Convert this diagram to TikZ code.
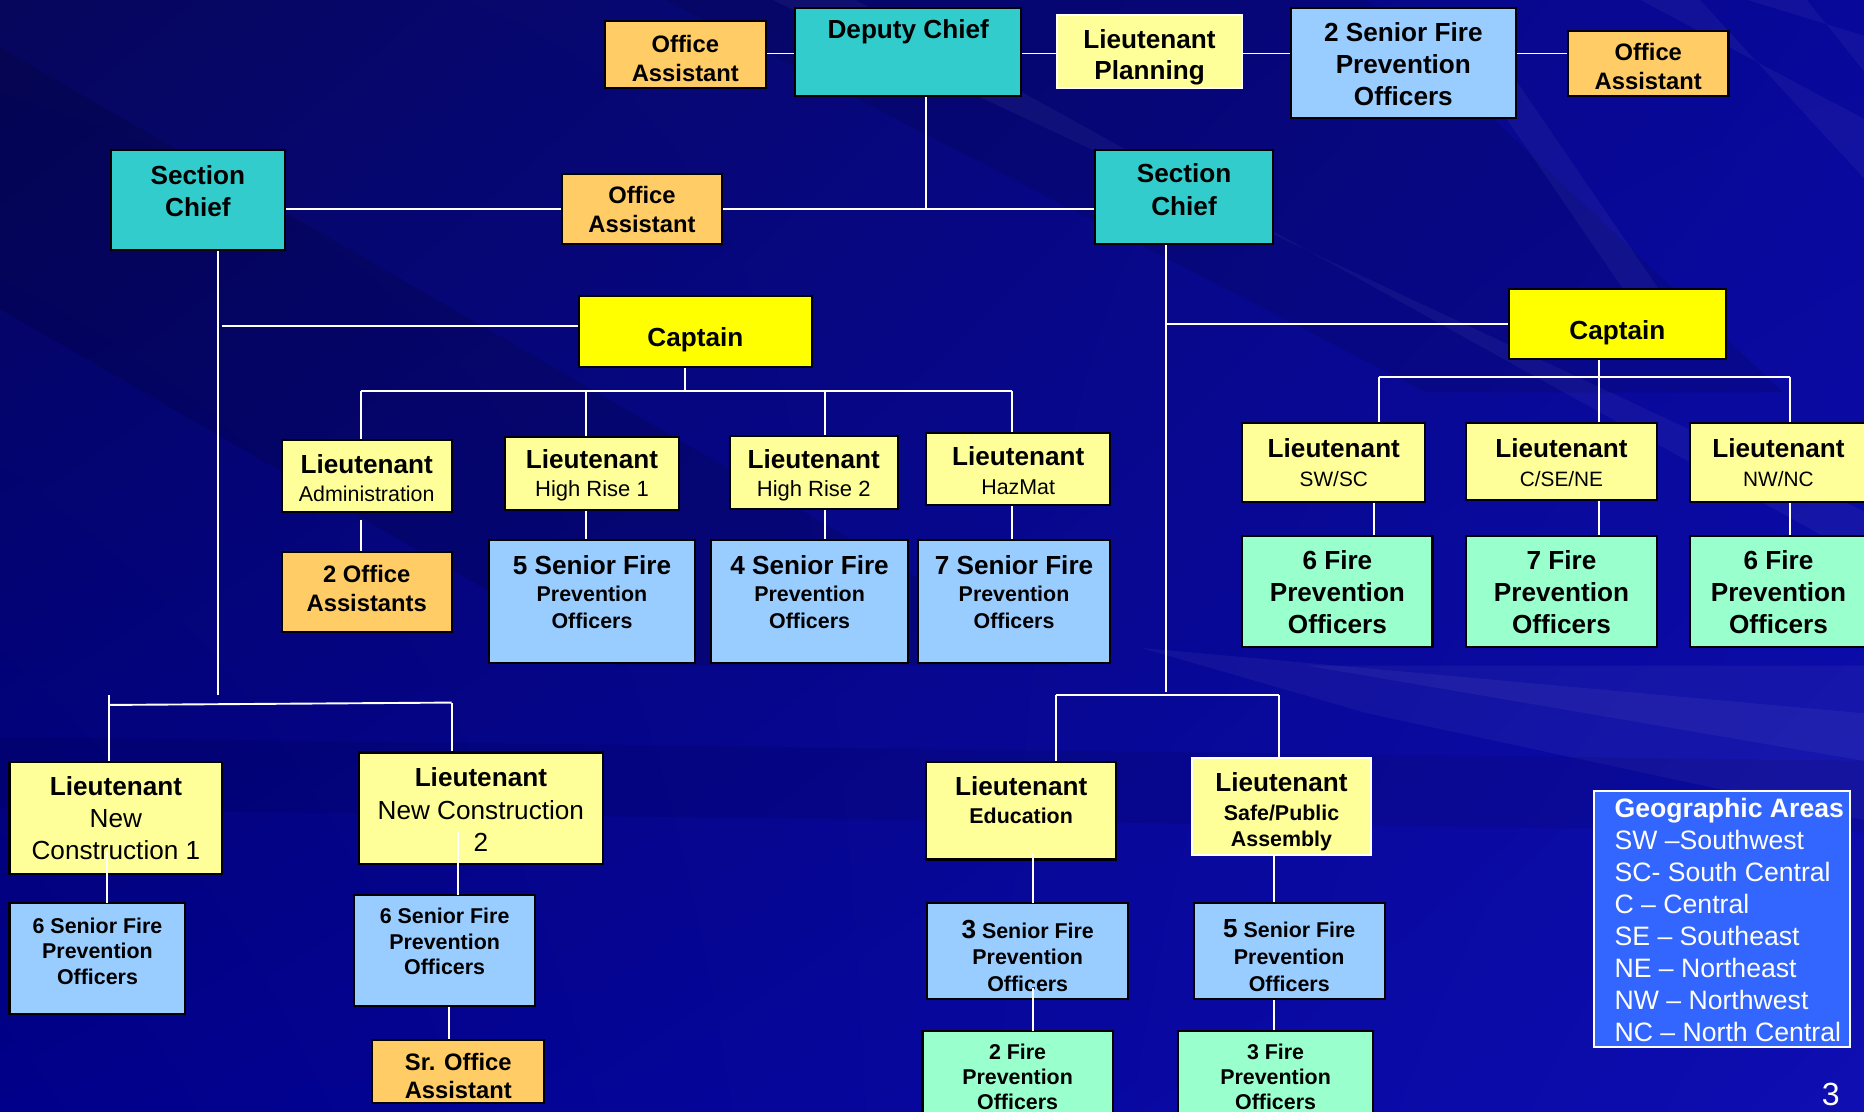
\documentclass[tikz,border=0pt]{standalone}
\usepackage{fontspec}
\setmainfont{Liberation Sans}
\usetikzlibrary{shadings}
\pgfdeclarelayer{back}
\pgfdeclarelayer{bg}
\pgfsetlayers{back,bg,main}
\definecolor{oaC}{HTML}{FFCC66}
\definecolor{chiefC}{HTML}{33CCCC}
\definecolor{ltC}{HTML}{FFFF99}
\definecolor{capC}{HTML}{FFFF00}
\definecolor{sfpoC}{HTML}{99CCFF}
\definecolor{fpoC}{HTML}{99FFCC}
\definecolor{legC}{HTML}{3366FF}
\definecolor{bgUL}{HTML}{06065C}
\definecolor{bgUR}{HTML}{08089A}
\definecolor{bgLL}{HTML}{00008A}
\definecolor{bgLR}{HTML}{0E0EB2}
\newcommand\FontB[2]{\fontsize{#1}{#2}\selectfont\bfseries}
\newcommand\FontR[2]{\fontsize{#1}{#2}\selectfont\mdseries}
% name, style, x1, y1, x2, y2, text centre y, text, text font
\newcommand\orgbox[9]{%
  \pgfmathsetmacro\obw{#5-#3}\pgfmathsetmacro\obh{#6-#4}%
  \node[#2, minimum width=\obw pt, minimum height=\obh pt, anchor=north west] (#1) at (#3,#4) {};%
  \node[txt, font={#9}] (#1t) at ({(#3+#5)/2},#7) {#8};%
}
\tikzset{
  bx/.style={draw=black, line width=1.7pt, inner sep=0pt, outer sep=0pt},
  oabox/.style={bx, fill=oaC},
  chiefbox/.style={bx, fill=chiefC},
  ltbox/.style={bx, fill=ltC},
  ltwbox/.style={ltbox, draw=white},
  capbox/.style={bx, fill=capC},
  sfpobox/.style={bx, fill=sfpoC},
  fpobox/.style={bx, fill=fpoC},
  txt/.style={align=center, inner sep=0pt, text=black},
  conn/.style={draw=white, line width=1.6pt},
  streak/.style={fill=white, opacity=0.045},
}
\begin{document}
\begin{tikzpicture}[x=1pt,y=-1pt]
\useasboundingbox (0,0) rectangle (1568,935);
\clip (0,0) rectangle (1568,935);

% ---------- boxes ----------
\orgbox{oa1}{oabox}{509}{18}{644}{74}{49}{Office\\Assistant}{\FontB{20}{24.5}}
\orgbox{dc}{chiefbox}{669}{7}{859}{81}{27}{Deputy Chief}{\FontB{22}{27}}
\orgbox{lp}{ltwbox}{889}{13}{1045}{74}{48}{Lieutenant\\Planning}{\FontB{22}{26}}
\orgbox{sf2}{sfpobox}{1086}{7}{1275}{99}{54}{2 Senior Fire\\Prevention\\Officers}{\FontB{22}{27}}
\orgbox{oa2}{oabox}{1319}{26}{1454}{81}{56}{Office\\Assistant}{\FontB{20}{24.5}}

\orgbox{scl}{chiefbox}{93}{126}{240}{210}{160.5}{Section\\Chief}{\FontB{22}{27}}
\orgbox{oam}{oabox}{473}{146}{607}{205}{176.5}{Office\\Assistant}{\FontB{20}{24.5}}
\orgbox{scr}{chiefbox}{921}{126}{1071}{205}{159.5}{Section\\Chief}{\FontB{22}{27}}

\orgbox{capl}{capbox}{487}{249}{683}{309}{286}{Captain}{\FontB{22}{27}}
\orgbox{capr}{capbox}{1269}{243}{1452}{302}{280}{Captain}{\FontB{22}{27}}

\orgbox{ladm}{ltbox}{237}{370}{380}{431}{402}{{\FontB{22}{24}Lieutenant}\\Administration}{\FontR{18}{24}}
\orgbox{lhr1}{ltbox}{425}{368}{571}{429}{400}{{\FontB{22}{24}Lieutenant}\\High Rise 1}{\FontR{18.5}{24}}
\orgbox{lhr2}{ltbox}{614}{367}{755}{428}{400}{{\FontB{22}{24}Lieutenant}\\High Rise 2}{\FontR{18.5}{24}}
\orgbox{lhaz}{ltbox}{779}{364}{934}{425}{396}{{\FontB{22}{24}Lieutenant}\\HazMat}{\FontR{18}{24}}

\orgbox{oa2x}{oabox}{237}{464}{380}{532}{495}{2 Office\\Assistants}{\FontB{20}{24}}
\orgbox{s5}{sfpobox}{411}{454}{585}{558}{498}{{\FontB{22}{23}5 Senior Fire}\\Prevention\\Officers}{\FontB{18}{23}}
\orgbox{s4}{sfpobox}{598}{454}{764}{558}{498}{{\FontB{22}{23}4 Senior Fire}\\Prevention\\Officers}{\FontB{18}{23}}
\orgbox{s7}{sfpobox}{772}{454}{934}{558}{498}{{\FontB{22}{23}7 Senior Fire}\\Prevention\\Officers}{\FontB{18}{23}}

\orgbox{lsw}{ltbox}{1045}{356}{1199}{422}{389}{{\FontB{22}{24}Lieutenant}\\SW/SC}{\FontR{17.5}{24}}
\orgbox{lcse}{ltbox}{1233}{356}{1394}{421}{389}{{\FontB{22}{24}Lieutenant}\\C/SE/NE}{\FontR{17.5}{24}}
\orgbox{lnw}{ltbox}{1422}{356}{1570}{422}{389}{{\FontB{22}{24}Lieutenant}\\NW/NC}{\FontR{17.5}{24}}
\orgbox{f6a}{fpobox}{1045}{451}{1205}{544}{498}{6 Fire\\Prevention\\Officers}{\FontB{22}{27}}
\orgbox{f7}{fpobox}{1233}{451}{1394}{544}{498}{7 Fire\\Prevention\\Officers}{\FontB{22}{27}}
\orgbox{f6b}{fpobox}{1422}{451}{1570}{544}{498}{6 Fire\\Prevention\\Officers}{\FontB{22}{27}}

\orgbox{lnc1}{ltbox}{8}{641}{187}{735}{688}{{\bfseries Lieutenant}\\New\\Construction 1}{\FontR{22}{27}}
\orgbox{lnc2}{ltbox}{302}{633}{507}{727}{681}{{\bfseries Lieutenant}\\New Construction\\2}{\FontR{22}{27}}
\orgbox{s6a}{sfpobox}{8}{760}{156}{853}{800}{6 Senior Fire\\Prevention\\Officers}{\FontB{18}{21.5}}
\orgbox{s6b}{sfpobox}{298}{753}{450}{846}{792}{6 Senior Fire\\Prevention\\Officers}{\FontB{18}{21.5}}
\orgbox{sroa}{oabox}{313}{875}{458}{928}{905}{Sr. Office\\Assistant}{\FontB{20}{24}}

\orgbox{ledu}{ltbox}{779}{641}{939}{723}{673}{{\FontB{22}{24}Lieutenant}\\Education}{\FontB{18}{24}}
\orgbox{lsafe}{ltwbox}{1003}{638}{1153}{719}{683}{{\FontB{22}{22}Lieutenant}\\[2pt]Safe/Public\\Assembly}{\FontB{18}{22}}
\orgbox{s3}{sfpobox}{780}{760}{949}{840}{804}{{\FontB{22}{22}3} Senior Fire\\Prevention\\Officers}{\FontB{18}{22.5}}
\orgbox{s5b}{sfpobox}{1004}{760}{1165}{840}{804}{{\FontB{22}{22}5} Senior Fire\\Prevention\\Officers}{\FontB{18}{22.5}}
\orgbox{f2}{fpobox}{776}{867}{936}{950}{905.5}{2 Fire\\Prevention\\Officers}{\FontB{18}{21}}
\orgbox{f3}{fpobox}{991}{867}{1155}{950}{905.5}{3 Fire\\Prevention\\Officers}{\FontB{18}{21}}

% legend and page number
\node[draw=white, line width=1.7pt, fill=legC, minimum width=215pt, minimum height=216pt,
      anchor=north west, inner sep=0pt, outer sep=0pt] (leg) at (1341,665) {};
\node[anchor=west, align=left, inner sep=0pt, text=white, font=\FontR{22.4}{26.9}] (legt) at (1358,774)
  {{\FontB{22.4}{26.9}Geographic Areas}\\SW –Southwest\\SC- South Central\\C – Central\\SE – Southeast\\NE – Northeast\\NW – Northwest\\NC – North Central};
\node[inner sep=0pt, text=white, font=\FontR{27}{30}] (pn) at (1540,921) {3};

% ---------- background ----------
\begin{pgfonlayer}{back}
  \shade[upper left=bgUL, upper right=bgUR, lower left=bgLL, lower right=bgLR] (0,0) rectangle (1568,935);
  \fill[black, opacity=0.12] (0,40) -- (0,260) -- (520,560) -- (900,560) -- cycle;
  \fill[black, opacity=0.10] (560,0) -- (1150,0) -- (1500,330) -- (1200,330) -- cycle;
  \fill[streak] (650,0) -- (720,0) -- (1568,470) -- (1568,430) -- cycle;
  \fill[streak] (1380,0) -- (1430,0) -- (1568,150) -- (1568,100) -- cycle;
  \fill[streak] (1470,0) -- (1520,0) -- (1568,60) -- (1568,30) -- cycle;
  \fill[streak] (1240,60) -- (1270,60) -- (1400,250) -- (1370,250) -- cycle;
  \fill[streak] (960,545) -- (1568,600) -- (1568,690) -- (1150,600) -- cycle;
  \fill[streak] (1100,560) -- (1568,560) -- (1568,640) -- cycle;
  \fill[black, opacity=0.08] (0,620) -- (1568,640) -- (1568,700) -- (0,680) -- cycle;
\end{pgfonlayer}

% ---------- connectors ----------
\begin{pgfonlayer}{bg}
  \coordinate (ytop) at (0,45);
  \draw[conn] (oa1.east |- ytop) -- (dc.west |- ytop);
  \draw[conn] (dc.east |- ytop) -- (lp.west |- ytop);
  \draw[conn] (lp.east |- ytop) -- (sf2.west |- ytop);
  \draw[conn] (sf2.east |- ytop) -- (oa2.west |- ytop);

  \coordinate (dcj) at (779,176);
  \draw[conn] (dcj |- dc.south) -- (dcj);
  \draw[conn] (scl.east |- dcj) -- (oam.west |- dcj);
  \draw[conn] (oam.east |- dcj) -- (scr.west |- dcj);

  % left section
  \coordinate (lvb) at (183,585);
  \draw[conn] (lvb |- scl.south) -- (lvb);
  \coordinate (lcy) at (187,274);
  \draw[conn] (lcy) -- (capl.west |- lcy);
  \coordinate (capLj) at (576,329);
  \draw[conn] (capLj |- capl.south) -- (capLj);
  \coordinate (barLa) at (304,329);
  \coordinate (barLb) at (851,329);
  \draw[conn] (barLa) -- (barLb);
  \draw[conn] (barLa) -- (barLa |- ladm.north);
  \coordinate (xa) at (493,329);
  \draw[conn] (xa) -- (xa |- lhr1.north);
  \coordinate (xb) at (694,329);
  \draw[conn] (xb) -- (xb |- lhr2.north);
  \draw[conn] (barLb) -- (barLb |- lhaz.north);
  \draw[conn] (barLa |- ladm.south) ++(0,6) -- (barLa |- oa2x.north);
  \draw[conn] (xa |- lhr1.south) -- (xa |- s5.north);
  \draw[conn] (xb |- lhr2.south) -- (xb |- s4.north);
  \draw[conn] (barLb |- lhaz.south) -- (barLb |- s7.north);

  % right section
  \coordinate (rvb) at (981,582);
  \draw[conn] (rvb |- scr.south) -- (rvb);
  \draw[conn] (rvb |- capr.west) -- (capr.west);
  \coordinate (xc) at (1345,317);
  \draw[conn] (xc |- capr.south) -- (xc |- lcse.north);
  \coordinate (barRa) at (1160,317);
  \coordinate (barRb) at (1506,317);
  \draw[conn] (barRa) -- (barRb);
  \draw[conn] (barRa) -- (barRa |- lsw.north);
  \draw[conn] (barRb) -- (barRb |- lnw.north);
  \coordinate (xd) at (1156,0);
  \draw[conn] (xd |- lsw.south) -- (xd |- f6a.north);
  \draw[conn] (xc |- lcse.south) -- (xc |- f7.north);
  \draw[conn] (barRb |- lnw.south) -- (barRb |- f6b.north);

  % bottom left
  \coordinate (blA) at (92,593);
  \coordinate (blB) at (380,591);
  \draw[conn] (blA) -- (blB);
  \draw[conn] (blA) ++(0,-8) -- (blA |- lnc1.north);
  \draw[conn] (blB) -- (blB |- lnc2.north);
  \coordinate (xe) at (378,0);
  \draw[conn] (xe |- s6b.south) -- (xe |- sroa.north);

  % bottom right
  \coordinate (brA) at (888,585);
  \coordinate (brB) at (1076,585);
  \draw[conn] (brA) -- (brB);
  \draw[conn] (brA) -- (brA |- ledu.north);
  \draw[conn] (brB) -- (brB |- lsafe.north);
  \coordinate (xf) at (1072,0);
  \draw[conn] (xf |- lsafe.south) -- (xf |- s5b.north);
  \draw[conn] (xf |- s5b.south) -- (xf |- f3.north);
\end{pgfonlayer}

% connectors that start inside their boxes
\coordinate (xg) at (90,716);
\draw[conn] (xg) -- (xg |- s6a.north);
\coordinate (xh) at (385,700);
\draw[conn] (xh) -- (xh |- s6b.north);
\coordinate (xi) at (869,718);
\draw[conn] (xi) -- (xi |- s3.north);
\coordinate (xj) at (869,831);
\draw[conn] (xj) -- (xj |- f2.north);
\end{tikzpicture}
\end{document}
